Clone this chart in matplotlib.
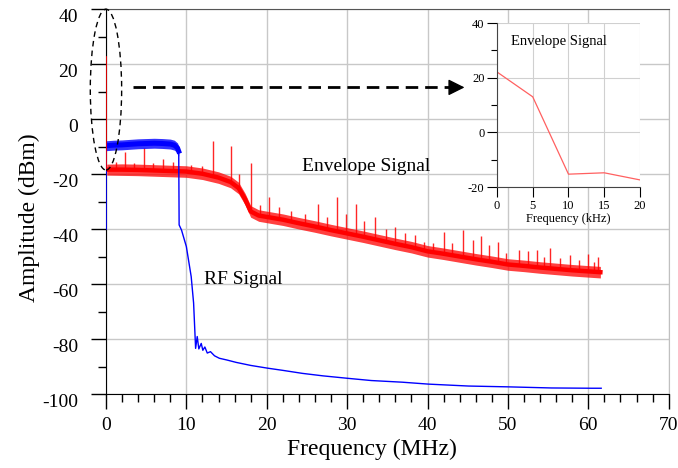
import numpy as np
import matplotlib
matplotlib.use('Agg')
import matplotlib.pyplot as plt
import matplotlib.transforms as mtransforms
from matplotlib.patches import Ellipse
from matplotlib.ticker import MultipleLocator

plt.rcParams['font.family'] = ['Liberation Serif', 'DejaVu Serif']
plt.rcParams['axes.unicode_minus'] = False

# envelope signal (red): centre of the noise band and its outer edges
env_x = [0.1, 2, 4, 6, 8, 10, 12, 14, 15.5, 16.5, 17.3, 18, 19, 20, 22, 24, 26, 28,
         30, 32, 34, 36, 38, 40, 42, 44, 46, 48, 50, 52, 54, 56, 58, 60, 61.5]
env_center = [-18.3, -18.3, -18.4, -18.6, -18.8, -19.0, -19.8, -21.2, -22.8, -25.0, -29.0,
              -33.5, -35.0, -35.5, -36.5, -37.8, -39.0, -40.3, -41.5, -42.7, -44.0, -45.3,
              -46.5, -48.0, -48.9, -49.9, -50.9, -51.8, -52.8, -53.3, -53.9, -54.4, -54.9,
              -55.3, -55.6]
env_hi = [-16.3, -16.2, -16.3, -16.5, -16.7, -16.9, -17.7, -19.1, -20.7, -22.9, -26.9,
          -31.4, -32.9, -33.4, -34.4, -35.7, -36.9, -38.2, -39.4, -40.6, -41.9, -43.2,
          -44.4, -45.9, -46.8, -47.8, -48.8, -49.7, -50.7, -51.2, -51.8, -52.3, -52.8,
          -53.2, -53.5]
env_lo = [-20.3, -20.4, -20.5, -20.7, -20.9, -21.1, -21.9, -23.3, -24.9, -27.1, -31.1,
          -35.6, -37.1, -37.6, -38.6, -39.9, -41.1, -42.4, -43.6, -44.8, -46.1, -47.4,
          -48.6, -50.1, -51.0, -52.0, -53.0, -53.9, -54.9, -55.4, -56.0, -56.5, -57.0,
          -57.4, -57.7]

# spikes on the envelope signal (MHz, top in dBm)
spike_x = [1.2, 2.4, 3.5, 4.7, 5.8, 7.1, 8.3, 10.6, 12.0, 13.3, 15.6, 16.6, 18.0, 19.1,
           20.3, 21.5, 23.0, 24.8, 26.4, 27.5, 28.8, 29.8, 31.1, 32.1, 33.5, 34.8, 35.9,
           37.2, 38.4, 39.6, 40.7, 42.1, 43.0, 44.4, 45.7, 46.6, 47.7, 48.8, 49.7, 51.4,
           52.5, 53.6, 54.5, 55.2, 56.5, 57.7, 58.8, 59.9, 60.7, 61.2]
spike_top = [-15.5, -12.0, -15.8, -10.5, -16.0, -14.5, -15.5, -16.5, -17.0, -7.8, -9.7,
             -20.0, -15.8, -31.0, -28.4, -32.0, -33.5, -34.5, -30.9, -35.5, -28.4, -34.5,
             -30.9, -37.0, -35.4, -40.0, -39.0, -41.5, -42.0, -44.5, -45.0, -41.1, -45.0,
             -40.3, -43.9, -42.4, -45.7, -44.5, -48.5, -47.5, -48.0, -47.5, -50.0, -46.9,
             -50.5, -49.3, -51.2, -49.0, -52.0, -50.0]

# RF signal (blue): noisy flat part, then the roll-off
rf_band_x = [0.05, 1, 2, 3, 4, 5, 6, 7, 8, 8.5, 8.9, 9.05]
rf_band_c = [-9.6, -9.4, -9.3, -9.1, -8.9, -8.8, -8.7, -8.8, -9.0, -9.4, -10.4, -11.6]
rf_band_hi = [-7.8, -7.6, -7.5, -7.3, -7.1, -7.0, -6.9, -7.0, -7.2, -7.6, -8.6, -9.8]
rf_band_lo = [-11.4, -11.2, -11.1, -10.9, -10.7, -10.6, -10.5, -10.6, -10.8, -11.2, -12.2, -13.4]
rf_x = [9.05, 9.1, 9.4, 10.0, 10.6, 10.9, 11.15, 11.35, 11.55, 11.85, 12.05, 12.3, 12.6,
        13.0, 13.5, 14.1, 15.0, 16.2, 18.0, 20.1, 22.0, 24.45, 27.0, 30.1, 33.0, 36.85,
        40.1, 45.1, 50.1, 55.4, 60.4, 61.6]
rf_y = [-11.6, -38.4, -40.3, -46.3, -57.2, -66.8, -83.3, -79.0, -83.5, -81.5, -84.0,
        -82.8, -85.0, -84.5, -86.0, -86.9, -87.5, -88.4, -89.5, -90.5, -91.3, -92.4,
        -93.3, -94.2, -95.0, -95.6, -96.3, -97.0, -97.3, -97.7, -97.8, -97.8]

# DC components at 0 MHz
dc_red = [-18.3, 22.8]
dc_blue = [-40.0, -9.6]

# inset: envelope spectrum near DC
inset_x = [0, 5, 10, 15, 20]
inset_y = [22.1, 13.0, -15.3, -14.8, -17.4]


def main():
    fig = plt.figure(figsize=(6.78, 4.68), dpi=100)
    ax = fig.add_axes([0.1563, 0.1575, 0.8300, 0.8226])

    ax.set_xlim(0, 70)
    ax.set_ylim(-100, 40)
    ax.xaxis.set_major_locator(MultipleLocator(10))
    ax.xaxis.set_minor_locator(MultipleLocator(2))
    ax.yaxis.set_major_locator(MultipleLocator(20))
    ax.yaxis.set_minor_locator(MultipleLocator(10))
    ax.grid(True, which='major', color='#c8c8c8', lw=1)
    ax.set_axisbelow(True)
    ax.tick_params(which='major', direction='out', length=11, width=1, labelsize=14)
    ax.tick_params(axis='y', which='major', pad=9)
    ax.tick_params(axis='x', which='major', pad=5)
    ax.tick_params(which='minor', direction='out', length=6, width=1)
    ax.spines['top'].set_color('#555555')
    ax.spines['right'].set_color('#c0c0c0')

    # envelope signal
    spike_base = np.interp(spike_x, env_x, env_center)
    ax.vlines(spike_x, spike_base, spike_top, color='red', lw=1, alpha=0.85, zorder=2.9)
    ax.fill_between(env_x, env_lo, env_hi, color='red', alpha=0.75, lw=0, zorder=3)
    ax.plot(env_x, env_center, color='red', lw=3.2, zorder=3)
    ax.plot([0, 0], dc_red, color='red', lw=1.2, zorder=4)

    # RF signal
    ax.fill_between(rf_band_x, rf_band_lo, rf_band_hi, color='blue', alpha=0.8, lw=0,
                    zorder=3.5)
    ax.plot(rf_band_x, rf_band_c, color='blue', lw=3.6, zorder=3.5)
    ax.plot(rf_x, rf_y, color='blue', lw=1, zorder=3.5)
    ax.plot([0, 0], dc_blue, color='blue', lw=1.2, zorder=3.6)

    ax.text(32.3, -17.3, 'Envelope Signal', fontsize=14, ha='center', va='center')
    ax.text(17.1, -58.4, 'RF Signal', fontsize=14, ha='center', va='center')

    # dashed ellipse around DC and arrow to the inset
    ell = Ellipse((0, 10.8), width=3.9, height=58.5, fill=False, ec='black', lw=1,
                  ls=(0, (4, 3)), clip_on=False, zorder=5)
    ax.add_patch(ell)
    ax.plot([3.4, 43.0], [11.6, 11.6], color='black', lw=2, dashes=(4.5, 2.5), zorder=5)
    ax.annotate('', xy=(44.6, 11.6), xytext=(42.6, 11.6),
                arrowprops=dict(arrowstyle='-|>,head_length=1.0,head_width=0.5',
                                color='black', lw=1, mutation_scale=10,
                                shrinkA=0, shrinkB=0))

    ax.set_xlabel('Frequency (MHz)', fontsize=17)
    ax.set_ylabel('Amplitude (dBm)', fontsize=17)
    ax.xaxis.set_label_coords(0.473, -0.115)
    ax.yaxis.set_label_coords(-0.118, 0.46)

    # y tick labels sit a little below their ticks in the original
    offset = mtransforms.ScaledTranslation(0, -0.06, fig.dpi_scale_trans)
    for lab in ax.get_yticklabels():
        lab.set_transform(lab.get_transform() + offset)

    # inset
    ax2 = fig.add_axes([0.733, 0.6004, 0.2109, 0.3504])
    ax2.set_xlim(0, 20)
    ax2.set_ylim(-20, 40)
    ax2.xaxis.set_major_locator(MultipleLocator(5))
    ax2.yaxis.set_major_locator(MultipleLocator(20))
    ax2.yaxis.set_minor_locator(MultipleLocator(10))
    ax2.grid(True, which='major', color='#d0d0d0', lw=0.8)
    ax2.set_axisbelow(True)
    ax2.tick_params(which='major', direction='out', length=7, width=0.8, labelsize=9,
                    pad=2)
    ax2.tick_params(which='minor', direction='out', length=4, width=0.8)
    ax2.spines['top'].set_visible(False)
    ax2.spines['right'].set_visible(False)
    ax2.spines['left'].set_color('#444444')
    ax2.spines['bottom'].set_color('#444444')
    ax2.plot(inset_x, inset_y, color='#ff6060', lw=0.9)
    ax2.text(8.7, 33.4, 'Envelope Signal', fontsize=10.5, ha='center', va='center')
    ax2.set_xlabel('Frequency (kHz)', fontsize=9, labelpad=1)

    plt.savefig('out.png', dpi=100)


if __name__ == '__main__':
    main()
